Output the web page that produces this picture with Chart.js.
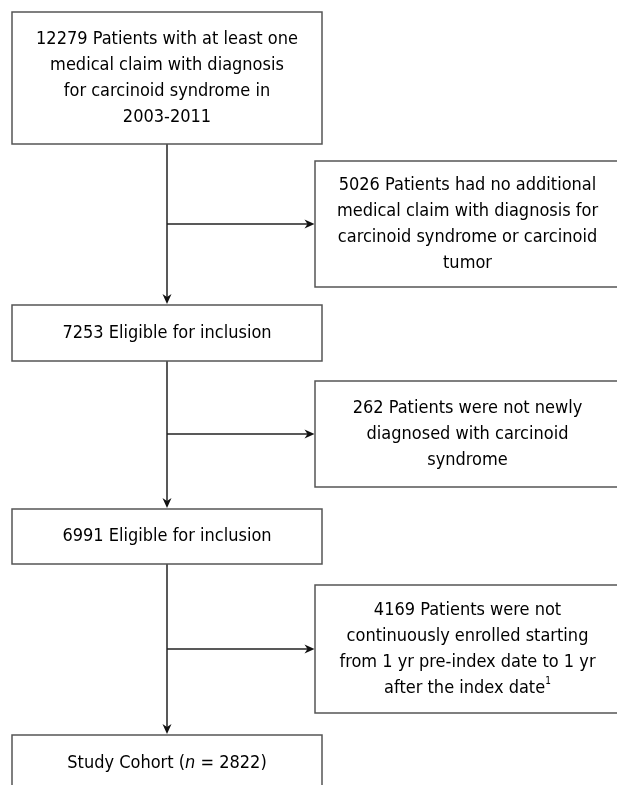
<!DOCTYPE html>
<html>
<head>
<meta charset="utf-8">
<script src="https://cdn.jsdelivr.net/npm/chart.js@4.4.1/dist/chart.umd.min.js"></script>
<style>
  html, body { margin: 0; padding: 0; background: #fff; }
  #chart { display: block; }
</style>
</head>
<body>
<canvas id="chart" width="617" height="785"></canvas>
<script>
// Patient counts at each step of the flow
const mainCounts = [12279, 7253, 6991, 2822];
const excludedCounts = [5026, 262, 4169];

// Box texts, one entry per line ({n} = count, *x* = italic, ^x = superscript)
const mainLabels = [
  ['{n} Patients with at least one', 'medical claim with diagnosis', 'for carcinoid syndrome in', '2003-2011'],
  ['{n} Eligible for inclusion'],
  ['{n} Eligible for inclusion'],
  ['Study Cohort (*n* = {n})']
];
const excludedLabels = [
  ['{n} Patients had no additional', 'medical claim with diagnosis for', 'carcinoid syndrome or carcinoid', 'tumor'],
  ['{n} Patients were not newly', 'diagnosed with carcinoid', 'syndrome'],
  ['{n} Patients were not', 'continuously enrolled starting', 'from 1 yr pre-index date to 1 yr', 'after the index date^1']
];

// Layout (in the scale units of the hidden axes)
const layout = {
  mainX: [12, 322],
  sideX: [315, 620],
  mainY: [[12, 144], [305, 361], [509, 564], [735, 791]],
  sideY: [[161, 287], [381, 487], [585, 713]],
  lineHeight: 26,
  font: '"DejaVu Sans Condensed", "DejaVu Sans", sans-serif',
  fontSize: 18
};

function parseLine(line, n) {
  const text = line.replace('{n}', n);
  const parts = text.split(/(\*[^*]+\*|\^\w+)/).filter(p => p.length);
  return parts.map(p => {
    if (p[0] === '*') return { t: p.slice(1, -1), style: 'italic' };
    if (p[0] === '^') return { t: p.slice(1), style: 'sup' };
    return { t: p, style: 'normal' };
  });
}

function segFont(style) {
  if (style === 'italic') return 'italic ' + layout.fontSize + 'px ' + layout.font;
  if (style === 'sup') return '10px ' + layout.font;
  return layout.fontSize + 'px ' + layout.font;
}

function drawRichLine(ctx, segs, cx, cy) {
  let total = 0;
  segs.forEach(s => { ctx.font = segFont(s.style); s.w = ctx.measureText(s.t).width; total += s.w; });
  let x = cx - total / 2;
  segs.forEach(s => {
    ctx.font = segFont(s.style);
    ctx.fillText(s.t, x, s.style === 'sup' ? cy - 7 : cy);
    x += s.w;
  });
}

function drawBox(chart, x0, x1, y0, y1, lines, n) {
  const ctx = chart.ctx;
  const sx = chart.scales.x, sy = chart.scales.y;
  const px0 = sx.getPixelForValue(x0), px1 = sx.getPixelForValue(x1);
  const py0 = sy.getPixelForValue(y0), py1 = sy.getPixelForValue(y1);
  ctx.save();
  ctx.strokeStyle = '#555';
  ctx.lineWidth = 1.5;
  ctx.strokeRect(px0, py0, px1 - px0, py1 - py0);
  ctx.fillStyle = '#000';
  ctx.textBaseline = 'middle';
  ctx.textAlign = 'left';
  const cx = (px0 + px1) / 2, cy = (py0 + py1) / 2;
  const start = cy - (lines.length - 1) * layout.lineHeight / 2;
  lines.forEach((line, i) => {
    drawRichLine(ctx, parseLine(line, n), cx, start + i * layout.lineHeight);
  });
  ctx.restore();
}

function drawArrow(chart, x0, y0, x1, y1) {
  const ctx = chart.ctx;
  const sx = chart.scales.x, sy = chart.scales.y;
  const ax = sx.getPixelForValue(x0), ay = sy.getPixelForValue(y0);
  const bx = sx.getPixelForValue(x1), by = sy.getPixelForValue(y1);
  const ang = Math.atan2(by - ay, bx - ax);
  const c = Math.cos(ang), s = Math.sin(ang);
  ctx.save();
  ctx.strokeStyle = '#222';
  ctx.fillStyle = '#111';
  ctx.lineWidth = 1.5;
  ctx.beginPath();
  ctx.moveTo(ax, ay);
  ctx.lineTo(bx - 5 * c, by - 5 * s);
  ctx.stroke();
  // arrow head
  const len = 10, half = 4.5;
  ctx.beginPath();
  ctx.moveTo(bx, by);
  ctx.lineTo(bx - len * c + half * s, by - len * s - half * c);
  ctx.lineTo(bx - 7 * c, by - 7 * s);
  ctx.lineTo(bx - len * c - half * s, by - len * s + half * c);
  ctx.closePath();
  ctx.fill();
  ctx.restore();
}

const flowchartPlugin = {
  id: 'flowchart',
  beforeDraw(chart) {
    const ctx = chart.ctx;
    ctx.save();
    ctx.fillStyle = '#fff';
    ctx.fillRect(0, 0, chart.width, chart.height);
    ctx.restore();
  },
  afterDatasetsDraw(chart) {
    const midX = (layout.mainX[0] + layout.mainX[1]) / 2;
    // vertical connectors and side branches
    for (let i = 0; i < mainCounts.length - 1; i++) {
      drawArrow(chart, midX, layout.mainY[i][1], midX, layout.mainY[i + 1][0] - 1);
      const branchY = (layout.sideY[i][0] + layout.sideY[i][1]) / 2;
      drawArrow(chart, midX, branchY, layout.sideX[0] - 0.5, branchY);
    }
    mainCounts.forEach((n, i) => {
      drawBox(chart, layout.mainX[0], layout.mainX[1], layout.mainY[i][0], layout.mainY[i][1], mainLabels[i], n);
    });
    excludedCounts.forEach((n, i) => {
      drawBox(chart, layout.sideX[0], layout.sideX[1], layout.sideY[i][0], layout.sideY[i][1], excludedLabels[i], n);
    });
  }
};

new Chart(document.getElementById('chart'), {
  type: 'scatter',
  data: { datasets: [{ data: [] }] },
  options: {
    responsive: false,
    animation: false,
    layout: { padding: 0 },
    plugins: { legend: { display: false }, tooltip: { enabled: false } },
    scales: {
      x: { type: 'linear', min: 0, max: 617, display: false },
      y: { type: 'linear', min: 0, max: 785, reverse: true, display: false }
    }
  },
  plugins: [flowchartPlugin]
});
</script>
</body>
</html>
